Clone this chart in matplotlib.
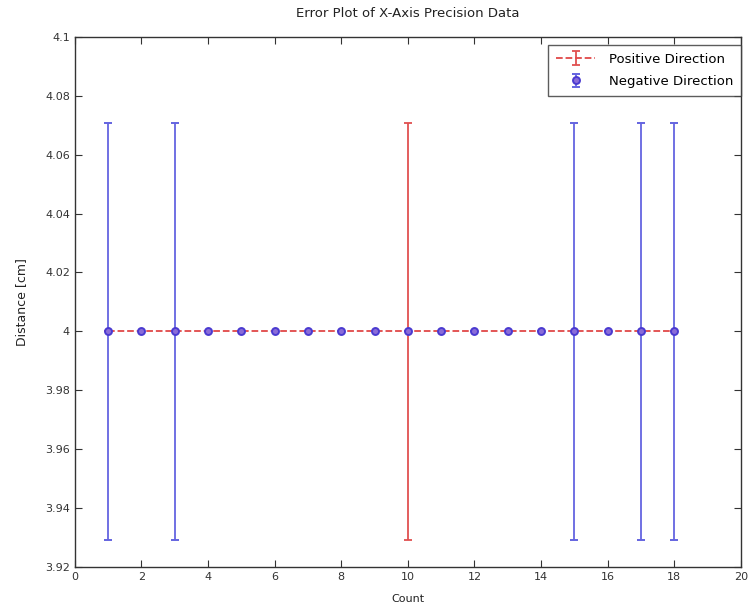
import matplotlib
matplotlib.use("Agg")
import matplotlib.pyplot as plt
import numpy as np

count = list(range(1, 19))
pos_values = [4.0] * 18
pos_err = [0, 0, 0, 0, 0, 0, 0, 0, 0, 0.0707, 0, 0, 0, 0, 0, 0, 0, 0]
neg_values = [4.0] * 18
neg_err = [0.0707, 0, 0.0707, 0, 0, 0, 0, 0, 0, 0, 0, 0, 0, 0, 0.0707, 0, 0.0707, 0.0707]

xticks = list(range(0, 21, 2))
yticks = [3.92, 3.94, 3.96, 3.98, 4.0, 4.02, 4.04, 4.06, 4.08, 4.1]
ytick_labels = ["3.92", "3.94", "3.96", "3.98", "4", "4.02", "4.04", "4.06", "4.08", "4.1"]

fig = plt.figure(figsize=(7.56, 6.13), dpi=100)
ax = fig.add_axes([0.099, 0.075, 0.881, 0.865])

ax.errorbar(count, pos_values, yerr=pos_err, fmt='--', color='#e04848', ecolor='#e05050',
            elinewidth=1.3, lw=1.3, capsize=3, capthick=1.3, label='Positive Direction')
ax.errorbar(count, neg_values, yerr=neg_err, fmt='o', color='#3a3ad8', ecolor='#6464e0',
            mfc='#8a6cd8', mec='#4a3ad0', mew=1.4, ms=5, elinewidth=1.3, capsize=3, capthick=1.3,
            label='Negative Direction')

ax.set_xlim(0, 20)
ax.set_ylim(3.92, 4.1)
ax.set_xticks(xticks)
ax.set_yticks(yticks)
ax.set_yticklabels(ytick_labels)
ax.tick_params(direction='in', top=True, right=True, labelsize=8, length=5, colors='#333333')
for s in ax.spines.values():
    s.set_color('#333333')
    s.set_linewidth(1.0)

ax.set_title('Error Plot of X-Axis Precision Data', fontsize=9.5, color='#222222', pad=14)
ax.set_xlabel('Count', fontsize=8, color='#222222', labelpad=9)
ax.set_ylabel('Distance [cm]', fontsize=9, color='#222222', labelpad=12)

leg = ax.legend(loc='upper right', fontsize=9.5, frameon=True, fancybox=False,
                edgecolor='#333333', borderaxespad=0.0, handlelength=3.0,
                bbox_to_anchor=(1.0, 0.985), borderpad=0.6, labelspacing=0.7,
                handletextpad=1.0)
leg.get_frame().set_linewidth(1.0)

fig.savefig('out.png', dpi=100)
